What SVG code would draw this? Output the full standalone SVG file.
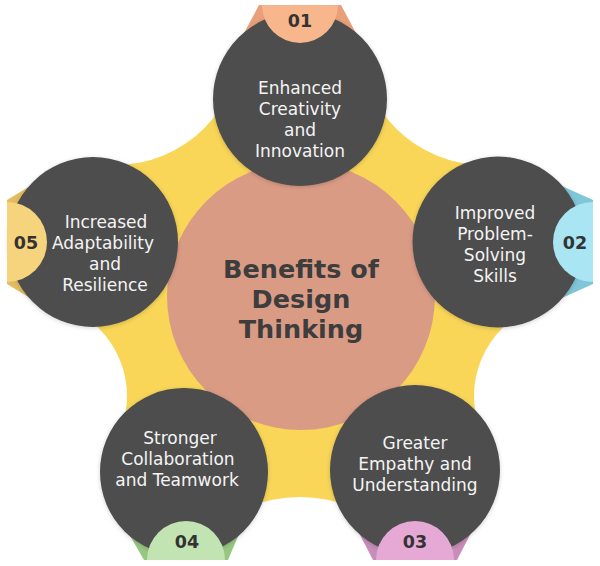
<svg xmlns="http://www.w3.org/2000/svg" width="600" height="566" viewBox="0 0 600 566">
  <style>
    .dark { fill: #4D4D4D; filter: url(#shadow); }
    .label { font-family: "DejaVu Sans", "Liberation Sans", sans-serif; font-size: 17px; fill: #F4F4F4; text-anchor: middle; }
    .num { font-family: "DejaVu Sans", "Liberation Sans", sans-serif; font-size: 17.5px; font-weight: bold; fill: #333333; text-anchor: middle; }
    .title { font-family: "DejaVu Sans", "Liberation Sans", sans-serif; font-size: 25.5px; font-weight: bold; fill: #3D3D3D; text-anchor: middle; }
  </style>
  <defs>
    <filter id="shadow" x="-20%" y="-20%" width="140%" height="140%">
      <feDropShadow dx="0" dy="1" stdDeviation="2" flood-color="#000000" flood-opacity="0.18"/>
    </filter>
    <mask id="starMask" maskUnits="userSpaceOnUse" x="0" y="0" width="600" height="566">
      <rect x="0" y="0" width="600" height="566" fill="white"/>
      <circle cx="484" cy="41" r="124" fill="black"/>
      <circle cx="116" cy="41" r="124" fill="black"/>
      <circle cx="32" cy="396" r="95" fill="black"/>
      <circle cx="569" cy="396" r="95" fill="black"/>
      <circle cx="300" cy="637" r="140" fill="black"/>
    </mask>
  </defs>
  <rect width="600" height="566" fill="#FFFFFF"/>

  <g id="connectors">
    <polygon id="star-backdrop" fill="#F9D658" mask="url(#starMask)"
      points="300,99 484,41 498,242 569,396 415,470 300,637 184,472 32,396 93,242 116,41"/>
  </g>

  <g id="center">
    <circle cx="301" cy="296" r="134" fill="#DA9B85"/>
    <text class="title" x="301" y="278">Benefits of<tspan x="301" dy="30">Design</tspan><tspan x="301" dy="30">Thinking</tspan></text>
  </g>

  <g id="node-01">
    <polygon points="259,5 341,5 357,35 300,99 243,35" fill="#E9A07A"/>
    <circle class="dark" cx="300" cy="99" r="87"/>
    <path d="M262,5 A38,38 0 0 0 338,5 Z" fill="#F7B68C"/>
    <text class="num" x="300" y="27">01</text>
    <text class="label" x="300" y="94">Enhanced<tspan x="300" dy="21">Creativity</tspan><tspan x="300" dy="21">and</tspan><tspan x="300" dy="21">Innovation</tspan></text>
  </g>

  <g id="node-02">
    <polygon points="593,200 593,284 562,298 498,242 562,186" fill="#7FC6D8"/>
    <circle class="dark" cx="498" cy="242" r="85.5"/>
    <path d="M593,202 A40,40 0 0 0 593,282 Z" fill="#A9E5F3"/>
    <text class="num" x="575" y="249">02</text>
    <text class="label" x="495" y="219">Improved<tspan x="495" dy="21">Problem-</tspan><tspan x="495" dy="21">Solving</tspan><tspan x="495" dy="21">Skills</tspan></text>
  </g>

  <g id="node-03">
    <polygon points="373,560 457,560 471,533 415,470 359,533" fill="#C88DB9"/>
    <circle class="dark" cx="415" cy="470" r="85"/>
    <path d="M376,560 A39,39 0 0 1 454,560 Z" fill="#E6A9D6"/>
    <text class="num" x="415" y="548">03</text>
    <text class="label" x="415" y="449">Greater<tspan x="415" dy="21">Empathy and</tspan><tspan x="415" dy="21">Understanding</tspan></text>
  </g>

  <g id="node-04">
    <polygon points="144,560 228,560 239,534 184,472 129,534" fill="#97C781"/>
    <circle class="dark" cx="184" cy="472" r="84"/>
    <path d="M147,560 A39,39 0 0 1 225,560 Z" fill="#C2E4B3"/>
    <text class="num" x="187" y="548">04</text>
    <text class="label" x="180" y="444">Stronger<tspan x="178" dy="21">Collaboration</tspan><tspan x="177" dy="21">and Teamwork</tspan></text>
  </g>

  <g id="node-05">
    <polygon points="7,200 7,284 30,298 93,242 30,186" fill="#E2BC5E"/>
    <circle class="dark" cx="93" cy="242" r="85"/>
    <path d="M7,202 A40,40 0 0 1 7,282 Z" fill="#F6D47D"/>
    <text class="num" x="26" y="249">05</text>
    <text class="label" x="106" y="228">Increased<tspan x="103" dy="21">Adaptability</tspan><tspan x="105" dy="21">and</tspan><tspan x="105" dy="21">Resilience</tspan></text>
  </g>
</svg>
